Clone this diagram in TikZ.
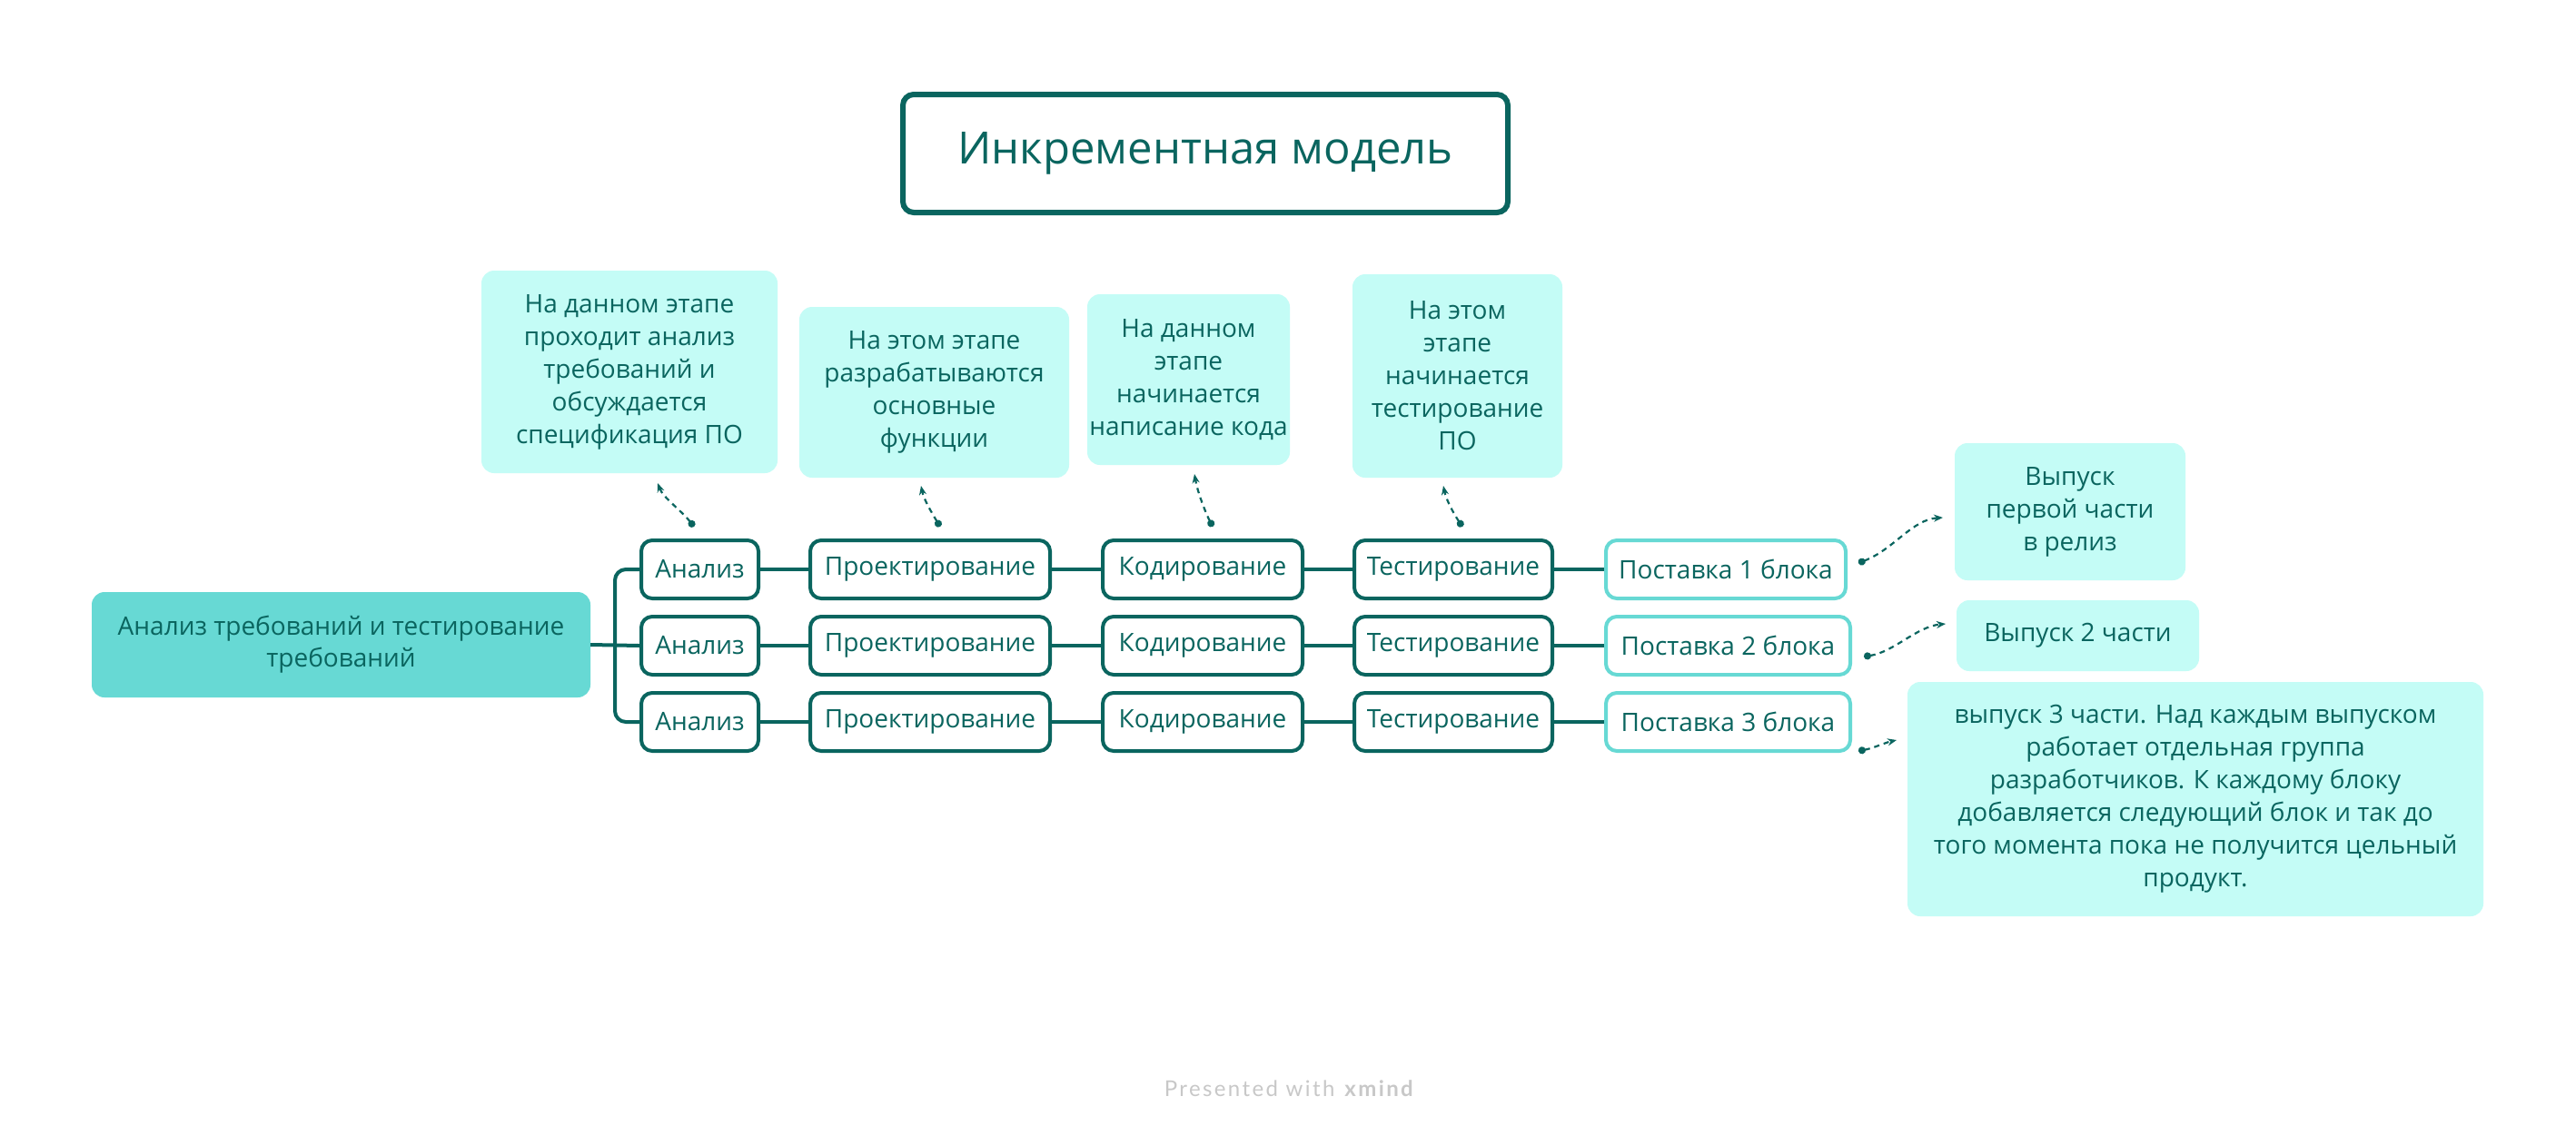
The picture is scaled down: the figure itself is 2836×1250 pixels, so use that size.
\documentclass[tikz,border=0pt]{standalone}
\usepackage{fontspec}
\setmainfont{Open Sans}
\newfontfamily\pfont[LetterSpace=10]{Lato}
\usetikzlibrary{arrows.meta}
\definecolor{ink}{RGB}{10,101,95}
\definecolor{cfill}{RGB}{103,217,212}
\definecolor{nfill}{RGB}{196,252,246}
\definecolor{pgray}{RGB}{200,200,200}
\tikzset{
  base/.style={align=center, inner sep=0pt, text=ink, font=\fontsize{28}{36}\selectfont},
  rowbox/.style={base, draw=ink, line width=4pt, rounded corners=12pt, fill=white, minimum height=64pt},
  lastbox/.style={rowbox, draw=cfill},
  notebox/.style={base, fill=nfill, rounded corners=14pt},
  centralbox/.style={base, fill=cfill, rounded corners=14pt, font=\fontsize{28}{35}\selectfont},
  titlebox/.style={base, draw=ink, line width=6pt, rounded corners=12pt, fill=white, font=\fontsize{49}{58}\selectfont},
  conn/.style={draw=ink, line width=4pt},
  callout/.style={draw=ink, line width=2.2pt, dash pattern=on 6pt off 5pt,
    {Circle[length=8pt,sep=0pt]}-{Stealth[length=10pt,width=8pt]}},
}
\begin{document}
\begin{tikzpicture}[x=1pt,y=-1pt]
\useasboundingbox (0,0) rectangle (2836,1250);
\fill[white] (0,0) rectangle (2836,1250);

% title
\node[titlebox, minimum width=666pt, minimum height=130pt] (t) at (1327,169) {Инкрементная модель};

% central
\node[centralbox, minimum width=549pt, minimum height=116pt] (c) at (375.5,710)
  {Анализ требований и тестирование\\требований};

% rows
\node[rowbox, minimum width=129pt] (a1) at (770.5,627) {Анализ};
\node[rowbox, minimum width=129pt] (a2) at (770.5,711) {Анализ};
\node[rowbox, minimum width=129pt] (a3) at (770.5,795) {Анализ};
\node[rowbox, minimum width=264pt] (p1) at (1024,627) {Проектирование};
\node[rowbox, minimum width=264pt] (p2) at (1024,711) {Проектирование};
\node[rowbox, minimum width=264pt] (p3) at (1024,795) {Проектирование};
\node[rowbox, minimum width=220pt] (k1) at (1324,627) {Кодирование};
\node[rowbox, minimum width=220pt] (k2) at (1324,711) {Кодирование};
\node[rowbox, minimum width=220pt] (k3) at (1324,795) {Кодирование};
\node[rowbox, minimum width=218pt] (e1) at (1600,627) {Тестирование};
\node[rowbox, minimum width=218pt] (e2) at (1600,711) {Тестирование};
\node[rowbox, minimum width=218pt] (e3) at (1600,795) {Тестирование};
\node[lastbox, minimum width=264pt] (s1) at (1900,627) {Поставка 1 блока};
\node[lastbox, minimum width=269pt] (s2) at (1902.5,711) {Поставка 2 блока};
\node[lastbox, minimum width=269pt] (s3) at (1902.5,795) {Поставка 3 блока};

% connectors
\coordinate (bx) at (677,711);
\draw[conn] (c.east) -- (a2.west);
\draw[conn, rounded corners=12pt] (a1.west) -| (bx) |- (a3.west);
\foreach \r in {1,2,3}{
  \draw[conn] (a\r.east) -- (p\r.west);
  \draw[conn] (p\r.east) -- (k\r.west);
  \draw[conn] (k\r.east) -- (e\r.west);
  \draw[conn] (e\r.east) -- (s\r.west);
}

% notes
\node[notebox, minimum width=326pt, minimum height=223pt] (n1) at (693,409.5)
  {На данном этапе\\проходит анализ\\требований и\\обсуждается\\спецификация ПО};
\node[notebox, minimum width=297pt, minimum height=188pt] (n2) at (1028.5,432)
  {На этом этапе\\разрабатываются\\основные\\функции};
\node[notebox, minimum width=223pt, minimum height=188pt] (n3) at (1308.5,418)
  {На данном\\этапе\\начинается\\написание кода};
\node[notebox, minimum width=231pt, minimum height=224pt] (n4) at (1604.5,414)
  {На этом\\этапе\\начинается\\тестирование\\ПО};
\node[notebox, minimum width=254pt, minimum height=151pt] (n5) at (2279,563.5)
  {Выпуск\\первой части\\в релиз};
\node[notebox, minimum width=267pt, minimum height=78pt] (n6) at (2287.5,700)
  {Выпуск 2 части};
\node[notebox, minimum width=634pt, minimum height=258pt] (n7) at (2417,880)
  {выпуск 3 части. Над каждым выпуском\\работает отдельная группа\\разработчиков. К каждому блоку\\добавляется следующий блок и так до\\того момента пока не получится цельный\\продукт.};

% callout connectors
\coordinate (d1) at (764,580);  \coordinate (u1) at (724,532);
\coordinate (d2) at (1035,580); \coordinate (u2) at (1014,535);
\coordinate (d3) at (1335,580); \coordinate (u3) at (1315,522);
\coordinate (d4) at (1610,580); \coordinate (u4) at (1589,535);
\coordinate (d5) at (2046,620); \coordinate (u5) at (2139,570);
\coordinate (d6) at (2052,723); \coordinate (u6) at (2142,687);
\coordinate (d7) at (2046,827); \coordinate (u7) at (2088,815);
\draw[callout] (d1) .. controls (750,562) and (730,548) .. (u1);
\draw[callout] (d2) .. controls (1026,565) and (1017,550) .. (u2);
\draw[callout] (d3) .. controls (1326,562) and (1318,540) .. (u3);
\draw[callout] (d4) .. controls (1600,565) and (1592,550) .. (u4);
\draw[callout] (d5) .. controls (2085,605) and (2105,572) .. (u5);
\draw[callout] (d6) .. controls (2085,718) and (2110,690) .. (u6);
\draw[callout] (d7) .. controls (2062,824) and (2075,818) .. (u7);

% footer
\node[text=pgray, font=\pfont\fontsize{24}{28}\selectfont, inner sep=0pt] (ft) at (1420,1199)
  {Presented with \textbf{xmind}};
\end{tikzpicture}
\end{document}
